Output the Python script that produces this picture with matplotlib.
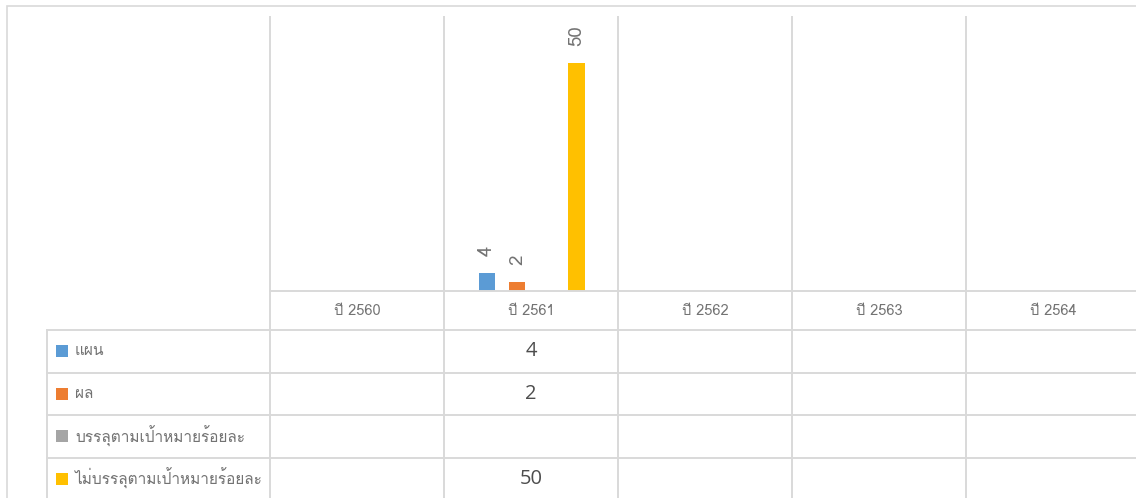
import numpy as np
import matplotlib
matplotlib.use("Agg")
import matplotlib.pyplot as plt
from matplotlib import font_manager as fm
from matplotlib.ft2font import FT2Font
from matplotlib.patches import Rectangle

# ---------------- data ----------------
categories = ["ปี 2560", "ปี 2561", "ปี 2562", "ปี 2563", "ปี 2564"]
series_names = ["แผน", "ผล", "บรรลุตามเป้าหมายร้อยละ", "ไม่บรรลุตามเป้าหมายร้อยละ"]
plan = [np.nan, 4, np.nan, np.nan, np.nan]
result = [np.nan, 2, np.nan, np.nan, np.nan]
achieved_pct = [np.nan, np.nan, np.nan, np.nan, np.nan]
not_achieved_pct = [np.nan, 50, np.nan, np.nan, np.nan]
colors = ["#5B9BD5", "#ED7D31", "#A5A5A5", "#FFC000"]

# ---------------- fonts ----------------
def thai_fonts():
    found = []
    seen = set()
    for f in fm.fontManager.ttflist:
        if f.name in seen:
            continue
        try:
            cm = FT2Font(f.fname).get_charmap()
        except Exception:
            continue
        if 0x0E1C in cm and 0x0E1B in cm:
            found.append(f.name)
            seen.add(f.name)
    return found

tf = thai_fonts()
pref = ["Loma", "Noto Sans Thai", "Sarabun", "IBM Plex Sans Thai"]
chosen = [p for p in pref if p in tf] or tf[:1]
THAI = chosen[:1] + ["DejaVu Sans"]
NUM = ["Open Sans", "DejaVu Sans"]

W, H = 1136, 498
fig = plt.figure(figsize=(W / 100, H / 100), dpi=100)
fig.patch.set_facecolor("white")

def fx(px):
    return px / W

def fy(py):
    return 1 - py / H

GRID = "#d9d9d9"
LW = 1.4
TXT = "#737373"
left_px, right_px = 270, 1140
cat_px = (right_px - left_px) / len(categories)

def px2u(dpx):
    return dpx / cat_px

# outer chart border
fig.patches.append(Rectangle((fx(6.5), fy(510)), fx(1150) - fx(6.5), fy(6.5) - fy(510),
                             transform=fig.transFigure, fill=False, edgecolor=GRID, linewidth=1.2))

# ---------------- bar axes ----------------
ax = fig.add_axes([fx(left_px), fy(291), fx(right_px) - fx(left_px), fy(17) - fy(291)])
ax.set_xlim(-0.5, len(categories) - 0.5)
ax.set_ylim(0, 60)
ax.axis("off")

x = np.arange(len(categories))
pitch = 0.171
bw = 0.092
all_series = [plan, result, achieved_pct, not_achieved_pct]
for i, (vals, c) in enumerate(zip(all_series, colors)):
    xs = x + (i - 1.5) * pitch + 0.005
    ax.bar(xs, vals, width=bw, color=c, zorder=3)
    for xi, v in zip(xs, vals):
        if not np.isnan(v):
            ax.annotate(f"{v:g}", (xi, v), xytext=(0, 12), textcoords="offset points",
                        rotation=90, ha="center", va="bottom", fontsize=13.5,
                        color=TXT, family=THAI)

for b in np.arange(-0.5, len(categories), 1.0):
    ax.axvline(b, color=GRID, linewidth=LW, zorder=1, clip_on=False)

# ---------------- data table ----------------
tax = fig.add_axes([fx(left_px), fy(498), fx(right_px) - fx(left_px), fy(291) - fy(498)])
tax.set_xlim(-0.5, len(categories) - 0.5)
tax.set_ylim(207, 0)
tax.axis("off")

row_top = [39, 81.5, 124, 166.5]
row_h = 42.5
legend_left = -0.5 - px2u(270 - 47)

tax.plot([-0.5, len(categories)], [0, 0], color=GRID, linewidth=LW, clip_on=False)
for r in row_top:
    tax.plot([legend_left, len(categories)], [r, r], color=GRID, linewidth=LW, clip_on=False)
tax.plot([legend_left, legend_left], [row_top[0], 230], color=GRID, linewidth=LW, clip_on=False)
for b in np.arange(-0.5, len(categories), 1.0):
    tax.plot([b, b], [0, 230], color=GRID, linewidth=LW, clip_on=False)

for xi, lab in zip(x, categories):
    tax.text(xi, 19.5, lab, ha="center", va="center", fontsize=10.5, color=TXT, family=THAI)

sq_x = -0.5 - px2u(270 - 56)
txt_x = -0.5 - px2u(270 - 75)
for r, name, c, vals in zip(row_top, series_names, colors, all_series):
    cy = r + row_h / 2
    tax.add_patch(Rectangle((sq_x, cy - 6), px2u(12), 12, facecolor=c, edgecolor="none", clip_on=False))
    tax.text(txt_x, cy, name, ha="left", va="center", fontsize=11.1, color=TXT,
             family=THAI, clip_on=False)
    for xi, v in zip(x, vals):
        if not np.isnan(v):
            tax.text(xi, cy, f"{v:g}", ha="center", va="center", fontsize=14.5,
                     color="#4d4d4d", family=NUM)

fig.savefig("out.png", dpi=100, facecolor="white")
